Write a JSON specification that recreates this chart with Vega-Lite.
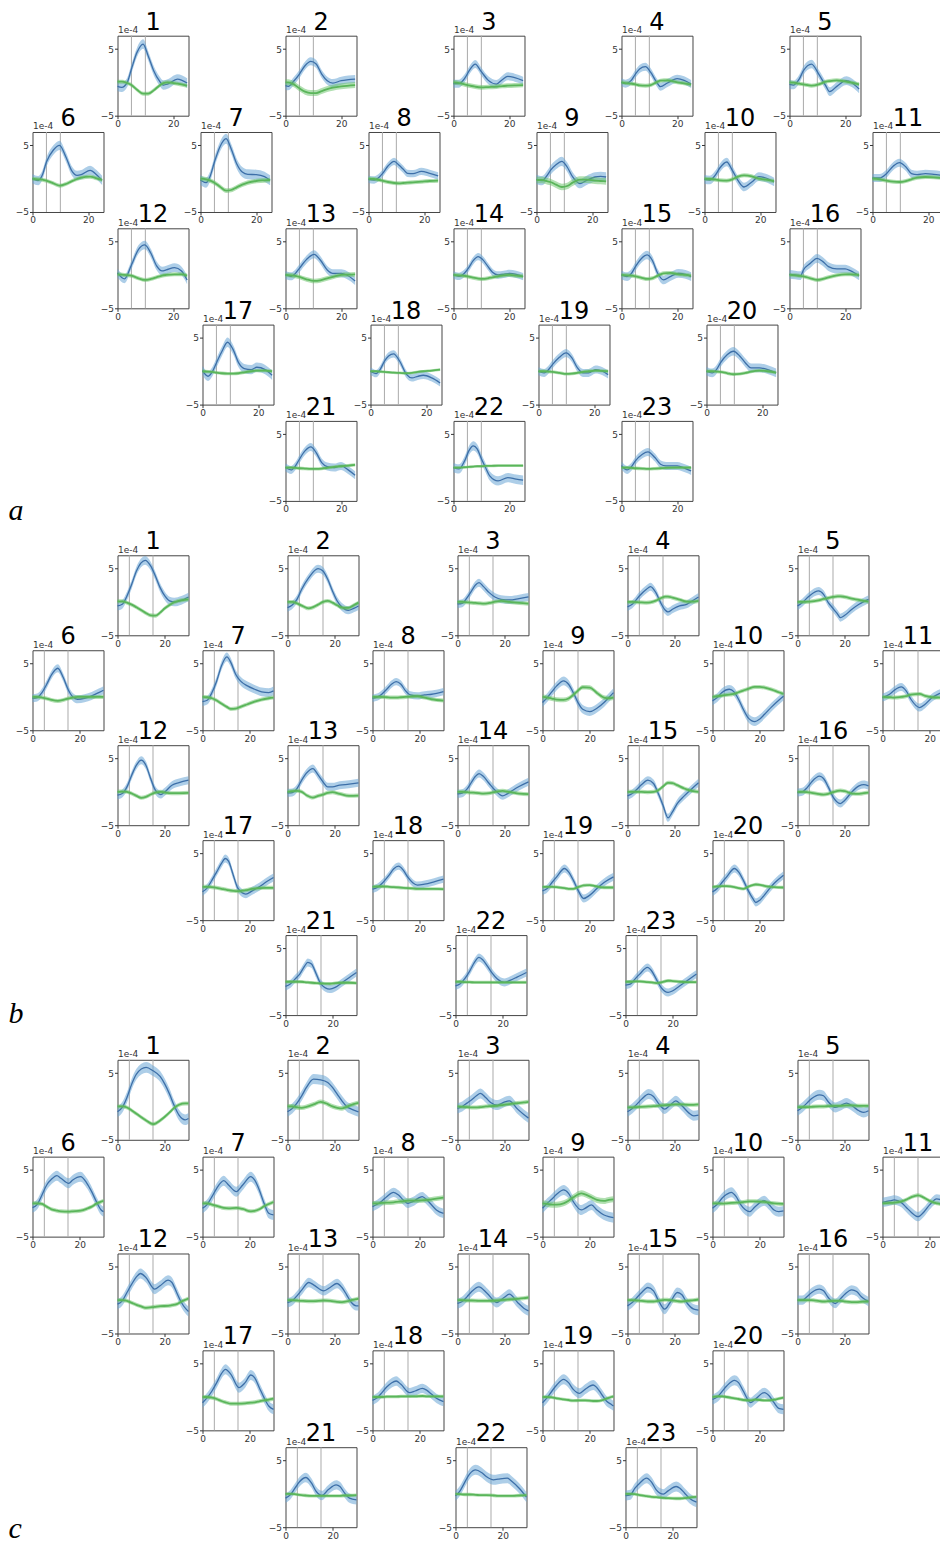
{"$schema":"https://vega.github.io/schema/vega-lite/v6.json","padding":{"left":8.5,"top":10.7,"right":-12,"bottom":0},"background":"white",
"config":{"view":{"stroke":"#444","strokeWidth":1},"axis":{"domain":false,"grid":false,"labelFlush":false,"labelOverlap":false,"labelFont":"DejaVu Sans","labelFontSize":9,"labelColor":"#333","tickColor":"#333","tickSize":3,"labelPadding":1,"titleFont":"DejaVu Sans","titleFontSize":9,"titleFontWeight":"normal","titleColor":"#333"},"axisY":{"titleAngle":0,"titleAlign":"left","titleBaseline":"bottom","titleX":0,"titleY":-1},"header":{"labelFontSize":24,"labelFont":"DejaVu Sans","labelColor":"#000","labelPadding":-10},"rule":{"color":"#aaa","strokeWidth":1}},
"datasets":{
"w":[{"p":"a01","be":0.7,"ge":0.3},{"p":"a02","be":0.6,"ge":0.45},{"p":"a03","be":0.6,"ge":0.35},{"p":"a04","be":0.6,"ge":0.3},{"p":"a05","be":0.65,"ge":0.3},{"p":"a06","be":0.7,"ge":0.3},{"p":"a07","be":0.75,"ge":0.35},{"p":"a08","be":0.55,"ge":0.3},{"p":"a09","be":0.7,"ge":0.5},{"p":"a10","be":0.65,"ge":0.3},{"p":"a11","be":0.6,"ge":0.3},{"p":"a12","be":0.65,"ge":0.3},{"p":"a13","be":0.6,"ge":0.35},{"p":"a14","be":0.55,"ge":0.3},{"p":"a15","be":0.65,"ge":0.3},{"p":"a16","be":0.65,"ge":0.3},{"p":"a17","be":0.7,"ge":0.25},{"p":"a18","be":0.55,"ge":0.2},{"p":"a19","be":0.6,"ge":0.25},{"p":"a20","be":0.65,"ge":0.25},{"p":"a21","be":0.6,"ge":0.25},{"p":"a22","be":0.7,"ge":0.2},{"p":"a23","be":0.6,"ge":0.25},
{"p":"b01","be":0.65,"ge":0.3},{"p":"b02","be":0.6,"ge":0.3},{"p":"b03","be":0.6,"ge":0.3},{"p":"b04","be":0.6,"ge":0.3},{"p":"b05","be":0.6,"ge":0.3},{"p":"b06","be":0.6,"ge":0.3},{"p":"b07","be":0.65,"ge":0.3},{"p":"b08","be":0.55,"ge":0.3},{"p":"b09","be":0.65,"ge":0.35},{"p":"b10","be":0.65,"ge":0.3},{"p":"b11","be":0.6,"ge":0.3},{"p":"b12","be":0.6,"ge":0.3},{"p":"b13","be":0.6,"ge":0.3},{"p":"b14","be":0.6,"ge":0.3},{"p":"b15","be":0.6,"ge":0.3},{"p":"b16","be":0.6,"ge":0.3},{"p":"b17","be":0.6,"ge":0.3},{"p":"b18","be":0.55,"ge":0.25},{"p":"b19","be":0.6,"ge":0.25},{"p":"b20","be":0.6,"ge":0.25},{"p":"b21","be":0.6,"ge":0.25},{"p":"b22","be":0.6,"ge":0.25},{"p":"b23","be":0.6,"ge":0.25},
{"p":"c01","be":0.8,"ge":0.3},{"p":"c02","be":0.75,"ge":0.35},{"p":"c03","be":0.75,"ge":0.3},{"p":"c04","be":0.75,"ge":0.3},{"p":"c05","be":0.75,"ge":0.3},{"p":"c06","be":0.75,"ge":0.3},{"p":"c07","be":0.75,"ge":0.3},{"p":"c08","be":0.7,"ge":0.35},{"p":"c09","be":0.75,"ge":0.45},{"p":"c10","be":0.75,"ge":0.3},{"p":"c11","be":0.7,"ge":0.3},{"p":"c12","be":0.75,"ge":0.3},{"p":"c13","be":0.7,"ge":0.3},{"p":"c14","be":0.75,"ge":0.3},{"p":"c15","be":0.75,"ge":0.3},{"p":"c16","be":0.7,"ge":0.3},{"p":"c17","be":0.75,"ge":0.3},{"p":"c18","be":0.7,"ge":0.25},{"p":"c19","be":0.75,"ge":0.25},{"p":"c20","be":0.75,"ge":0.25},{"p":"c21","be":0.7,"ge":0.25},{"p":"c22","be":0.75,"ge":0.25},{"p":"c23","be":0.75,"ge":0.25}],
"d":[
{"p":"a01","x":0,"b":-0.6,"g":0.1},{"p":"a01","x":1.5,"b":-0.75,"g":0.1},{"p":"a01","x":3.5,"b":0,"g":-0.1},{"p":"a01","x":5,"b":2,"g":-0.4},{"p":"a01","x":7,"b":4.5,"g":-1.1},{"p":"a01","x":9.2,"b":5.75,"g":-1.7},{"p":"a01","x":11,"b":4,"g":-1.7},{"p":"a01","x":13,"b":1.75,"g":-1.2},{"p":"a01","x":15,"b":0.25,"g":-0.5},{"p":"a01","x":16.5,"b":-0.4,"g":-0.1},{"p":"a01","x":18,"b":-0.25,"g":0},{"p":"a01","x":21.5,"b":0.5,"g":-0.2},{"p":"a01","x":25,"b":-0.1,"g":-0.5},
{"p":"a02","x":0,"b":-0.5,"g":0},{"p":"a02","x":1,"b":-0.6,"g":0},{"p":"a02","x":3,"b":0.2,"g":-0.3},{"p":"a02","x":5,"b":1.25,"g":-0.9},{"p":"a02","x":7,"b":2.5,"g":-1.4},{"p":"a02","x":9.1,"b":3.15,"g":-1.6},{"p":"a02","x":11,"b":2.75,"g":-1.6},{"p":"a02","x":13,"b":1.25,"g":-1.3},{"p":"a02","x":15,"b":0.25,"g":-1},{"p":"a02","x":17,"b":-0.1,"g":-0.8},{"p":"a02","x":20,"b":0.25,"g":-0.6},{"p":"a02","x":25,"b":0.5,"g":-0.4},
{"p":"a03","x":0,"b":-0.2,"g":0},{"p":"a03","x":2,"b":-0.2,"g":-0.1},{"p":"a03","x":4,"b":0.6,"g":-0.3},{"p":"a03","x":6,"b":2,"g":-0.5},{"p":"a03","x":7.8,"b":2.75,"g":-0.65},{"p":"a03","x":10,"b":1.6,"g":-0.75},{"p":"a03","x":12.5,"b":0.3,"g":-0.7},{"p":"a03","x":15.4,"b":-0.25,"g":-0.65},{"p":"a03","x":17.5,"b":0.4,"g":-0.55},{"p":"a03","x":19.5,"b":0.9,"g":-0.5},{"p":"a03","x":22,"b":0.7,"g":-0.45},{"p":"a03","x":25,"b":0.25,"g":-0.4},
{"p":"a04","x":0,"b":0,"g":0},{"p":"a04","x":1.5,"b":-0.2,"g":-0.1},{"p":"a04","x":3.5,"b":0.3,"g":-0.2},{"p":"a04","x":5,"b":1.25,"g":-0.3},{"p":"a04","x":6.5,"b":2,"g":-0.45},{"p":"a04","x":8.6,"b":2.35,"g":-0.5},{"p":"a04","x":10.5,"b":1.5,"g":-0.4},{"p":"a04","x":12.5,"b":0.1,"g":0},{"p":"a04","x":14,"b":-0.65,"g":0.25},{"p":"a04","x":16.5,"b":-0.1,"g":0.3},{"p":"a04","x":20,"b":0.55,"g":0},{"p":"a04","x":22.5,"b":0.3,"g":-0.15},{"p":"a04","x":25,"b":-0.25,"g":-0.35},
{"p":"a05","x":0,"b":-0.3,"g":0},{"p":"a05","x":1.5,"b":-0.4,"g":-0.05},{"p":"a05","x":3.5,"b":0.5,"g":-0.2},{"p":"a05","x":5,"b":1.75,"g":-0.3},{"p":"a05","x":7.9,"b":2.75,"g":-0.5},{"p":"a05","x":10.5,"b":1.25,"g":-0.3},{"p":"a05","x":13,"b":-0.5,"g":0.1},{"p":"a05","x":14.4,"b":-1.4,"g":0.2},{"p":"a05","x":17,"b":-0.6,"g":0.3},{"p":"a05","x":20.4,"b":0.25,"g":0.1},{"p":"a05","x":22.5,"b":-0.1,"g":-0.05},{"p":"a05","x":25,"b":-1,"g":-0.3},
{"p":"a06","x":0,"b":0,"g":0},{"p":"a06","x":2,"b":-0.3,"g":-0.1},{"p":"a06","x":3.5,"b":0.5,"g":-0.15},{"p":"a06","x":5,"b":2.5,"g":-0.3},{"p":"a06","x":7.5,"b":4.3,"g":-0.7},{"p":"a06","x":9.7,"b":5,"g":-1.05},{"p":"a06","x":12,"b":3.25,"g":-0.8},{"p":"a06","x":14,"b":1.25,"g":-0.4},{"p":"a06","x":16,"b":0.5,"g":-0.05},{"p":"a06","x":17.5,"b":0.6,"g":0.15},{"p":"a06","x":20.7,"b":1.25,"g":0.3},{"p":"a06","x":23,"b":0.6,"g":0.05},{"p":"a06","x":25,"b":-0.25,"g":-0.2},
{"p":"a07","x":0,"b":-0.2,"g":0},{"p":"a07","x":2,"b":-0.6,"g":-0.1},{"p":"a07","x":3.5,"b":0.4,"g":-0.3},{"p":"a07","x":5,"b":2.5,"g":-0.6},{"p":"a07","x":7,"b":4.8,"g":-1.2},{"p":"a07","x":9.2,"b":6,"g":-1.8},{"p":"a07","x":11,"b":4.5,"g":-1.7},{"p":"a07","x":13,"b":2.25,"g":-1.3},{"p":"a07","x":15,"b":1,"g":-0.9},{"p":"a07","x":17,"b":0.65,"g":-0.6},{"p":"a07","x":20,"b":0.6,"g":-0.35},{"p":"a07","x":23,"b":0.3,"g":-0.25},{"p":"a07","x":25,"b":-0.25,"g":-0.2},
{"p":"a08","x":0,"b":-0.1,"g":0},{"p":"a08","x":2,"b":-0.2,"g":-0.05},{"p":"a08","x":4,"b":0.3,"g":-0.2},{"p":"a08","x":5,"b":0.75,"g":-0.3},{"p":"a08","x":7,"b":1.9,"g":-0.5},{"p":"a08","x":9.2,"b":2.6,"g":-0.65},{"p":"a08","x":11,"b":2,"g":-0.7},{"p":"a08","x":12.5,"b":1.4,"g":-0.65},{"p":"a08","x":14,"b":0.8,"g":-0.6},{"p":"a08","x":16,"b":0.75,"g":-0.55},{"p":"a08","x":19,"b":1.1,"g":-0.45},{"p":"a08","x":22,"b":0.8,"g":-0.35},{"p":"a08","x":25,"b":0.4,"g":-0.3},
{"p":"a09","x":0,"b":-0.1,"g":-0.2},{"p":"a09","x":2,"b":-0.3,"g":-0.2},{"p":"a09","x":4,"b":0.6,"g":-0.4},{"p":"a09","x":5,"b":1.25,"g":-0.5},{"p":"a09","x":7,"b":2.1,"g":-0.9},{"p":"a09","x":9.1,"b":2.6,"g":-1.25},{"p":"a09","x":11,"b":1.75,"g":-1.1},{"p":"a09","x":13,"b":0.25,"g":-0.6},{"p":"a09","x":15.6,"b":-0.75,"g":-0.15},{"p":"a09","x":18,"b":-0.25,"g":-0.15},{"p":"a09","x":21,"b":0.25,"g":-0.3},{"p":"a09","x":23,"b":0.35,"g":-0.35},{"p":"a09","x":25,"b":0.25,"g":-0.4},
{"p":"a10","x":0,"b":-0.1,"g":0},{"p":"a10","x":2,"b":-0.2,"g":-0.05},{"p":"a10","x":4,"b":0.6,"g":-0.15},{"p":"a10","x":5.5,"b":1.6,"g":-0.25},{"p":"a10","x":8,"b":2.5,"g":-0.3},{"p":"a10","x":10,"b":1.25,"g":-0.1},{"p":"a10","x":12,"b":-0.25,"g":0.3},{"p":"a10","x":14.2,"b":-1.25,"g":0.5},{"p":"a10","x":17,"b":-0.5,"g":0.35},{"p":"a10","x":19.5,"b":0.3,"g":0},{"p":"a10","x":22,"b":0.1,"g":-0.15},{"p":"a10","x":25,"b":-0.5,"g":-0.35},
{"p":"a11","x":0,"b":0.1,"g":0},{"p":"a11","x":2.5,"b":0.1,"g":-0.1},{"p":"a11","x":5,"b":0.75,"g":-0.3},{"p":"a11","x":7.5,"b":1.9,"g":-0.45},{"p":"a11","x":9.7,"b":2.4,"g":-0.5},{"p":"a11","x":12,"b":1.75,"g":-0.35},{"p":"a11","x":14,"b":0.75,"g":-0.1},{"p":"a11","x":16,"b":0.6,"g":0.15},{"p":"a11","x":19,"b":0.75,"g":0.25},{"p":"a11","x":22,"b":0.65,"g":0.2},{"p":"a11","x":25,"b":0.5,"g":0.1},
{"p":"a12","x":0,"b":0.3,"g":0.1},{"p":"a12","x":2.5,"b":-0.6,"g":0},{"p":"a12","x":5,"b":1.5,"g":-0.1},{"p":"a12","x":7.5,"b":3.8,"g":-0.5},{"p":"a12","x":9.8,"b":4.5,"g":-0.75},{"p":"a12","x":12,"b":3.25,"g":-0.6},{"p":"a12","x":14,"b":1.4,"g":-0.35},{"p":"a12","x":16,"b":0.6,"g":-0.1},{"p":"a12","x":17.5,"b":0.75,"g":0},{"p":"a12","x":20.5,"b":1.1,"g":0.1},{"p":"a12","x":23,"b":0.6,"g":0.1},{"p":"a12","x":25,"b":-0.75,"g":-0.1},
{"p":"a13","x":0,"b":0,"g":0},{"p":"a13","x":2,"b":-0.2,"g":-0.05},{"p":"a13","x":3.5,"b":0.2,"g":-0.15},{"p":"a13","x":5,"b":1,"g":-0.3},{"p":"a13","x":7.5,"b":2.3,"g":-0.65},{"p":"a13","x":10.3,"b":3.1,"g":-0.9},{"p":"a13","x":12.5,"b":2.25,"g":-0.8},{"p":"a13","x":15,"b":0.75,"g":-0.5},{"p":"a13","x":17,"b":0.25,"g":-0.3},{"p":"a13","x":20,"b":0.25,"g":0},{"p":"a13","x":22,"b":0,"g":0.05},{"p":"a13","x":25,"b":-0.9,"g":0.1},
{"p":"a14","x":0,"b":0,"g":0},{"p":"a14","x":2,"b":-0.2,"g":-0.05},{"p":"a14","x":4,"b":0.3,"g":-0.15},{"p":"a14","x":5.5,"b":1.1,"g":-0.25},{"p":"a14","x":7,"b":2.1,"g":-0.4},{"p":"a14","x":8.9,"b":2.75,"g":-0.55},{"p":"a14","x":10.5,"b":2.3,"g":-0.6},{"p":"a14","x":12.4,"b":1.25,"g":-0.5},{"p":"a14","x":14,"b":0.4,"g":-0.35},{"p":"a14","x":16,"b":0,"g":-0.2},{"p":"a14","x":18,"b":0.1,"g":-0.05},{"p":"a14","x":20.1,"b":0.25,"g":0},{"p":"a14","x":22.5,"b":0.1,"g":-0.1},{"p":"a14","x":25,"b":-0.25,"g":-0.2},
{"p":"a15","x":0,"b":0,"g":0},{"p":"a15","x":2,"b":-0.25,"g":-0.05},{"p":"a15","x":3.5,"b":0.2,"g":-0.1},{"p":"a15","x":5,"b":1.25,"g":-0.2},{"p":"a15","x":7,"b":2.4,"g":-0.4},{"p":"a15","x":9.2,"b":3,"g":-0.6},{"p":"a15","x":11,"b":2.25,"g":-0.5},{"p":"a15","x":13,"b":0.25,"g":-0.1},{"p":"a15","x":15.1,"b":-0.75,"g":0.25},{"p":"a15","x":17.5,"b":-0.25,"g":0.3},{"p":"a15","x":20.5,"b":0.25,"g":0.1},{"p":"a15","x":23,"b":0.1,"g":0},{"p":"a15","x":25,"b":-0.25,"g":-0.1},
{"p":"a16","x":0,"b":0.1,"g":0},{"p":"a16","x":2,"b":0,"g":-0.05},{"p":"a16","x":4,"b":-0.1,"g":-0.15},{"p":"a16","x":5,"b":0.75,"g":-0.2},{"p":"a16","x":7.5,"b":1.75,"g":-0.5},{"p":"a16","x":9.9,"b":2.5,"g":-0.75},{"p":"a16","x":12,"b":2,"g":-0.6},{"p":"a16","x":14,"b":1.25,"g":-0.35},{"p":"a16","x":17,"b":0.9,"g":-0.05},{"p":"a16","x":20,"b":0.9,"g":0.1},{"p":"a16","x":22,"b":0.6,"g":0.1},{"p":"a16","x":25,"b":-0.15,"g":0},
{"p":"a17","x":0,"b":0.1,"g":0},{"p":"a17","x":2,"b":-0.75,"g":-0.05},{"p":"a17","x":3.5,"b":-0.1,"g":-0.1},{"p":"a17","x":5,"b":1.25,"g":-0.2},{"p":"a17","x":7,"b":3,"g":-0.3},{"p":"a17","x":9,"b":4.35,"g":-0.35},{"p":"a17","x":11,"b":3.25,"g":-0.35},{"p":"a17","x":13,"b":1.25,"g":-0.3},{"p":"a17","x":15,"b":0.4,"g":-0.15},{"p":"a17","x":17.5,"b":0.25,"g":0},{"p":"a17","x":19.5,"b":0.6,"g":0.1},{"p":"a17","x":22.5,"b":0.25,"g":0.1},{"p":"a17","x":25,"b":-0.6,"g":0},
{"p":"a18","x":0,"b":0,"g":0},{"p":"a18","x":2,"b":-0.35,"g":0},{"p":"a18","x":3.5,"b":0.3,"g":-0.05},{"p":"a18","x":5,"b":1.5,"g":-0.1},{"p":"a18","x":6.5,"b":2.3,"g":-0.15},{"p":"a18","x":8.3,"b":2.6,"g":-0.2},{"p":"a18","x":10.5,"b":1.5,"g":-0.25},{"p":"a18","x":13,"b":-0.5,"g":-0.3},{"p":"a18","x":14.9,"b":-1,"g":-0.25},{"p":"a18","x":17,"b":-0.75,"g":-0.1},{"p":"a18","x":19,"b":-0.6,"g":0},{"p":"a18","x":22,"b":-1,"g":0.1},{"p":"a18","x":25,"b":-1.75,"g":0.25},
{"p":"a19","x":0,"b":0,"g":0},{"p":"a19","x":2,"b":-0.25,"g":0},{"p":"a19","x":3.5,"b":0.2,"g":-0.05},{"p":"a19","x":5,"b":1,"g":-0.1},{"p":"a19","x":7.5,"b":2.1,"g":-0.25},{"p":"a19","x":9.9,"b":2.75,"g":-0.4},{"p":"a19","x":12,"b":2,"g":-0.35},{"p":"a19","x":14,"b":0.5,"g":-0.25},{"p":"a19","x":16,"b":-0.25,"g":-0.1},{"p":"a19","x":18,"b":-0.25,"g":0},{"p":"a19","x":20.5,"b":0.25,"g":0.1},{"p":"a19","x":23,"b":0,"g":0.05},{"p":"a19","x":25,"b":-0.5,"g":0},
{"p":"a20","x":0,"b":0,"g":0},{"p":"a20","x":2,"b":-0.25,"g":0},{"p":"a20","x":3.5,"b":0.2,"g":-0.05},{"p":"a20","x":5,"b":1.25,"g":-0.1},{"p":"a20","x":7.5,"b":2.5,"g":-0.3},{"p":"a20","x":9.7,"b":3,"g":-0.45},{"p":"a20","x":12,"b":2.25,"g":-0.4},{"p":"a20","x":14,"b":1.25,"g":-0.25},{"p":"a20","x":16,"b":0.5,"g":-0.05},{"p":"a20","x":19,"b":0.5,"g":0.1},{"p":"a20","x":22,"b":0.25,"g":0},{"p":"a20","x":25,"b":-0.25,"g":-0.2},
{"p":"a21","x":0,"b":0,"g":0},{"p":"a21","x":2,"b":-0.35,"g":0},{"p":"a21","x":3.5,"b":0.2,"g":-0.05},{"p":"a21","x":5,"b":1.25,"g":-0.1},{"p":"a21","x":7,"b":2.5,"g":-0.15},{"p":"a21","x":9.1,"b":3.1,"g":-0.2},{"p":"a21","x":11,"b":2.25,"g":-0.2},{"p":"a21","x":13,"b":0.75,"g":-0.15},{"p":"a21","x":15,"b":0.15,"g":-0.05},{"p":"a21","x":17.5,"b":0,"g":0.1},{"p":"a21","x":20,"b":0.25,"g":0.2},{"p":"a21","x":22.5,"b":-0.35,"g":0.3},{"p":"a21","x":25,"b":-1.15,"g":0.4},
{"p":"a22","x":0,"b":0,"g":0},{"p":"a22","x":2,"b":-0.2,"g":0},{"p":"a22","x":4,"b":1,"g":0.05},{"p":"a22","x":5.5,"b":2.5,"g":0.1},{"p":"a22","x":7.1,"b":3.25,"g":0.15},{"p":"a22","x":8.5,"b":2.8,"g":0.2},{"p":"a22","x":10.1,"b":1.25,"g":0.2},{"p":"a22","x":11.5,"b":0,"g":0.25},{"p":"a22","x":13,"b":-1.25,"g":0.25},{"p":"a22","x":16,"b":-2,"g":0.3},{"p":"a22","x":19.5,"b":-1.5,"g":0.3},{"p":"a22","x":22.5,"b":-1.75,"g":0.3},{"p":"a22","x":25,"b":-1.9,"g":0.3},
{"p":"a23","x":0,"b":0.3,"g":0},{"p":"a23","x":2,"b":-0.35,"g":0},{"p":"a23","x":3.5,"b":0.1,"g":-0.05},{"p":"a23","x":5,"b":1,"g":-0.1},{"p":"a23","x":7.5,"b":2,"g":-0.15},{"p":"a23","x":9.5,"b":2.35,"g":-0.2},{"p":"a23","x":12,"b":1.5,"g":-0.15},{"p":"a23","x":14,"b":0.5,"g":-0.1},{"p":"a23","x":16,"b":0.25,"g":-0.05},{"p":"a23","x":20,"b":0.25,"g":0},{"p":"a23","x":23,"b":-0.15,"g":0},{"p":"a23","x":25,"b":-0.5,"g":0},
{"p":"b01","x":0,"b":-0.6,"g":0.1},{"p":"b01","x":2,"b":-0.35,"g":0.1},{"p":"b01","x":4,"b":0.9,"g":-0.1},{"p":"b01","x":6,"b":2.65,"g":-0.4},{"p":"b01","x":8,"b":4.65,"g":-0.8},{"p":"b01","x":11.7,"b":6.25,"g":-1.6},{"p":"b01","x":14,"b":5.4,"g":-2},{"p":"b01","x":16,"b":3.9,"g":-2.05},{"p":"b01","x":18,"b":2.15,"g":-1.6},{"p":"b01","x":20,"b":0.9,"g":-0.95},{"p":"b01","x":22,"b":0.15,"g":-0.45},{"p":"b01","x":24,"b":0,"g":-0.05},{"p":"b01","x":27,"b":0.25,"g":0.25},{"p":"b01","x":30,"b":0.75,"g":0.4},
{"p":"b02","x":0,"b":-0.85,"g":0},{"p":"b02","x":2,"b":-0.45,"g":0},{"p":"b02","x":4,"b":0.4,"g":-0.2},{"p":"b02","x":6,"b":1.9,"g":-0.55},{"p":"b02","x":9,"b":3.65,"g":-0.95},{"p":"b02","x":12.9,"b":5,"g":-0.4},{"p":"b02","x":15,"b":4.65,"g":0},{"p":"b02","x":17,"b":3.4,"g":0.15},{"p":"b02","x":19,"b":1.65,"g":-0.1},{"p":"b02","x":21,"b":0.15,"g":-0.5},{"p":"b02","x":23,"b":-0.75,"g":-0.85},{"p":"b02","x":25.7,"b":-1.25,"g":-0.9},{"p":"b02","x":28,"b":-0.95,"g":-0.5},{"p":"b02","x":30,"b":-0.6,"g":-0.1},
{"p":"b03","x":0,"b":-0.3,"g":0},{"p":"b03","x":2,"b":-0.2,"g":0},{"p":"b03","x":4,"b":0.6,"g":-0.05},{"p":"b03","x":6,"b":1.7,"g":-0.1},{"p":"b03","x":7.5,"b":2.5,"g":-0.15},{"p":"b03","x":9.1,"b":2.9,"g":-0.2},{"p":"b03","x":11,"b":2.3,"g":-0.25},{"p":"b03","x":13.4,"b":1.4,"g":-0.15},{"p":"b03","x":16,"b":0.7,"g":0.05},{"p":"b03","x":18.4,"b":0.4,"g":0.15},{"p":"b03","x":22,"b":0.3,"g":0},{"p":"b03","x":26,"b":0.5,"g":-0.15},{"p":"b03","x":30,"b":0.75,"g":-0.25},
{"p":"b04","x":0,"b":-0.75,"g":0},{"p":"b04","x":2,"b":-0.35,"g":0},{"p":"b04","x":5,"b":0.9,"g":-0.05},{"p":"b04","x":8,"b":1.9,"g":-0.1},{"p":"b04","x":9.7,"b":2.3,"g":-0.05},{"p":"b04","x":12,"b":1.4,"g":0.2},{"p":"b04","x":14,"b":-0.1,"g":0.55},{"p":"b04","x":16,"b":-1.25,"g":0.8},{"p":"b04","x":17.1,"b":-1.5,"g":0.8},{"p":"b04","x":19,"b":-1.1,"g":0.65},{"p":"b04","x":22,"b":-0.6,"g":0.35},{"p":"b04","x":25,"b":-0.35,"g":0.05},{"p":"b04","x":28,"b":0.3,"g":0.05},{"p":"b04","x":30,"b":0.75,"g":0.15},
{"p":"b05","x":0,"b":-0.6,"g":0},{"p":"b05","x":2,"b":-0.1,"g":0},{"p":"b05","x":5,"b":0.9,"g":0.05},{"p":"b05","x":8.9,"b":1.65,"g":0.25},{"p":"b05","x":11,"b":1.15,"g":0.45},{"p":"b05","x":13,"b":-0.1,"g":0.6},{"p":"b05","x":15,"b":-0.95,"g":0.75},{"p":"b05","x":17,"b":-1.85,"g":0.85},{"p":"b05","x":18.1,"b":-2.35,"g":0.85},{"p":"b05","x":20,"b":-2,"g":0.75},{"p":"b05","x":23,"b":-1.1,"g":0.5},{"p":"b05","x":26,"b":-0.35,"g":0.3},{"p":"b05","x":28,"b":0.05,"g":0.15},{"p":"b05","x":30,"b":0.4,"g":0.05},
{"p":"b06","x":0,"b":-0.2,"g":0},{"p":"b06","x":2,"b":-0.1,"g":0},{"p":"b06","x":4,"b":0.65,"g":-0.1},{"p":"b06","x":6,"b":1.9,"g":-0.25},{"p":"b06","x":8,"b":3.3,"g":-0.45},{"p":"b06","x":10.7,"b":4.3,"g":-0.6},{"p":"b06","x":13,"b":2.9,"g":-0.45},{"p":"b06","x":15,"b":1.15,"g":-0.25},{"p":"b06","x":17,"b":0,"g":-0.1},{"p":"b06","x":19,"b":-0.35,"g":0},{"p":"b06","x":22,"b":-0.2,"g":0},{"p":"b06","x":25,"b":0.15,"g":0},{"p":"b06","x":28,"b":0.65,"g":0},{"p":"b06","x":30,"b":1,"g":0},
{"p":"b07","x":0,"b":-0.7,"g":0},{"p":"b07","x":2,"b":-0.5,"g":-0.05},{"p":"b07","x":4,"b":0.65,"g":-0.2},{"p":"b07","x":6,"b":2.4,"g":-0.55},{"p":"b07","x":8,"b":4.65,"g":-1},{"p":"b07","x":10.3,"b":6,"g":-1.5},{"p":"b07","x":12,"b":5.15,"g":-1.8},{"p":"b07","x":14,"b":3.4,"g":-1.75},{"p":"b07","x":16,"b":2.4,"g":-1.5},{"p":"b07","x":19,"b":1.65,"g":-1.1},{"p":"b07","x":22,"b":1.15,"g":-0.7},{"p":"b07","x":25,"b":0.75,"g":-0.4},{"p":"b07","x":28,"b":0.65,"g":-0.2},{"p":"b07","x":30,"b":0.9,"g":-0.1},
{"p":"b08","x":0,"b":-0.2,"g":0},{"p":"b08","x":3,"b":0.15,"g":0},{"p":"b08","x":6,"b":1.15,"g":-0.05},{"p":"b08","x":8,"b":1.9,"g":-0.1},{"p":"b08","x":10,"b":2.3,"g":-0.1},{"p":"b08","x":12,"b":1.9,"g":-0.05},{"p":"b08","x":14,"b":0.9,"g":0},{"p":"b08","x":16,"b":0.3,"g":0.05},{"p":"b08","x":19,"b":0.15,"g":0.1},{"p":"b08","x":22,"b":0.3,"g":-0.1},{"p":"b08","x":25,"b":0.4,"g":-0.35},{"p":"b08","x":30,"b":0.8,"g":-0.55},
{"p":"b09","x":0,"b":-0.85,"g":0},{"p":"b09","x":2,"b":-0.1,"g":-0.1},{"p":"b09","x":4,"b":0.8,"g":-0.25},{"p":"b09","x":6,"b":1.65,"g":-0.4},{"p":"b09","x":8.9,"b":2.4,"g":-0.45},{"p":"b09","x":11,"b":1.9,"g":-0.25},{"p":"b09","x":13,"b":0.65,"g":0.3},{"p":"b09","x":15,"b":-0.85,"g":0.95},{"p":"b09","x":17,"b":-1.85,"g":1.45},{"p":"b09","x":20,"b":-2.2,"g":1.4},{"p":"b09","x":23,"b":-1.7,"g":0.6},{"p":"b09","x":26,"b":-0.85,"g":-0.1},{"p":"b09","x":28,"b":-0.1,"g":-0.2},{"p":"b09","x":30,"b":0.65,"g":-0.1},
{"p":"b10","x":0,"b":-0.6,"g":0},{"p":"b10","x":2,"b":-0.1,"g":0.1},{"p":"b10","x":4,"b":0.65,"g":0.2},{"p":"b10","x":7.1,"b":1.15,"g":0.35},{"p":"b10","x":9,"b":0.8,"g":0.45},{"p":"b10","x":11,"b":-0.35,"g":0.7},{"p":"b10","x":13,"b":-1.85,"g":0.95},{"p":"b10","x":15,"b":-3.1,"g":1.2},{"p":"b10","x":17.9,"b":-3.7,"g":1.5},{"p":"b10","x":20,"b":-3.3,"g":1.5},{"p":"b10","x":22,"b":-2.6,"g":1.4},{"p":"b10","x":25,"b":-1.5,"g":1.1},{"p":"b10","x":28,"b":-0.5,"g":0.7},{"p":"b10","x":30,"b":0.1,"g":0.45},
{"p":"b11","x":0,"b":-0.1,"g":0},{"p":"b11","x":3,"b":0.4,"g":-0.05},{"p":"b11","x":5,"b":1,"g":-0.1},{"p":"b11","x":7.9,"b":1.5,"g":0},{"p":"b11","x":10,"b":0.9,"g":0.1},{"p":"b11","x":12,"b":-0.35,"g":0.35},{"p":"b11","x":15.7,"b":-1.6,"g":0.45},{"p":"b11","x":18,"b":-1.1,"g":0.15},{"p":"b11","x":21,"b":-0.1,"g":-0.05},{"p":"b11","x":24,"b":0.5,"g":-0.1},{"p":"b11","x":27,"b":0.9,"g":-0.15},{"p":"b11","x":30,"b":1,"g":-0.15},
{"p":"b12","x":0,"b":-0.5,"g":0},{"p":"b12","x":2,"b":-0.25,"g":0.05},{"p":"b12","x":4,"b":0.75,"g":0},{"p":"b12","x":6,"b":2.5,"g":-0.25},{"p":"b12","x":8,"b":4,"g":-0.6},{"p":"b12","x":10,"b":4.75,"g":-0.9},{"p":"b12","x":12,"b":4,"g":-0.75},{"p":"b12","x":14,"b":2,"g":-0.4},{"p":"b12","x":16,"b":0.25,"g":-0.1},{"p":"b12","x":18.3,"b":-0.4,"g":0},{"p":"b12","x":20,"b":0,"g":-0.1},{"p":"b12","x":23,"b":1,"g":-0.2},{"p":"b12","x":26,"b":1.4,"g":-0.2},{"p":"b12","x":30,"b":1.75,"g":-0.15},
{"p":"b13","x":0,"b":-0.15,"g":0},{"p":"b13","x":2,"b":-0.1,"g":0.1},{"p":"b13","x":4,"b":0.5,"g":0.15},{"p":"b13","x":6,"b":1.75,"g":0},{"p":"b13","x":8,"b":2.8,"g":-0.5},{"p":"b13","x":10.7,"b":3.5,"g":-0.85},{"p":"b13","x":13,"b":2.5,"g":-0.6},{"p":"b13","x":15,"b":1.5,"g":-0.4},{"p":"b13","x":17,"b":0.75,"g":-0.15},{"p":"b13","x":19,"b":0.75,"g":-0.05},{"p":"b13","x":22,"b":1,"g":-0.3},{"p":"b13","x":26,"b":1.15,"g":-0.6},{"p":"b13","x":30,"b":1.35,"g":-0.55},
{"p":"b14","x":0,"b":-0.3,"g":0},{"p":"b14","x":2,"b":-0.2,"g":0},{"p":"b14","x":4,"b":0.4,"g":-0.05},{"p":"b14","x":6,"b":1.5,"g":-0.1},{"p":"b14","x":7.5,"b":2.3,"g":-0.15},{"p":"b14","x":9.1,"b":2.75,"g":-0.2},{"p":"b14","x":11,"b":2.3,"g":-0.25},{"p":"b14","x":13.4,"b":1.25,"g":-0.2},{"p":"b14","x":16,"b":0.2,"g":0},{"p":"b14","x":19.1,"b":-0.6,"g":0.15},{"p":"b14","x":21,"b":-0.3,"g":0.05},{"p":"b14","x":23.4,"b":0.25,"g":-0.1},{"p":"b14","x":26,"b":0.8,"g":-0.25},{"p":"b14","x":30,"b":1.5,"g":-0.35},
{"p":"b15","x":0,"b":-0.6,"g":0},{"p":"b15","x":2,"b":-0.25,"g":0},{"p":"b15","x":4,"b":0.4,"g":0},{"p":"b15","x":6,"b":1.1,"g":0},{"p":"b15","x":8.6,"b":1.75,"g":-0.05},{"p":"b15","x":11,"b":1.25,"g":0},{"p":"b15","x":13,"b":-0.25,"g":0.25},{"p":"b15","x":15,"b":-2,"g":0.8},{"p":"b15","x":17.1,"b":-3.9,"g":1.35},{"p":"b15","x":19,"b":-3,"g":1.3},{"p":"b15","x":21,"b":-1.75,"g":1},{"p":"b15","x":24,"b":-0.6,"g":0.5},{"p":"b15","x":27,"b":0.4,"g":0.15},{"p":"b15","x":30,"b":1.35,"g":0},
{"p":"b16","x":0,"b":-0.1,"g":0},{"p":"b16","x":2,"b":0,"g":0},{"p":"b16","x":4,"b":0.6,"g":-0.05},{"p":"b16","x":6,"b":1.5,"g":-0.15},{"p":"b16","x":9.3,"b":2.35,"g":-0.35},{"p":"b16","x":11,"b":2,"g":-0.4},{"p":"b16","x":13,"b":0.75,"g":-0.3},{"p":"b16","x":15,"b":-0.75,"g":-0.05},{"p":"b16","x":18.1,"b":-1.75,"g":0.2},{"p":"b16","x":20,"b":-1.25,"g":0.1},{"p":"b16","x":23,"b":0,"g":-0.25},{"p":"b16","x":26,"b":0.9,"g":-0.3},{"p":"b16","x":28,"b":1.1,"g":-0.2},{"p":"b16","x":30,"b":0.9,"g":-0.1},
{"p":"b17","x":0,"b":-0.75,"g":0},{"p":"b17","x":2,"b":-0.15,"g":0},{"p":"b17","x":4,"b":1,"g":-0.05},{"p":"b17","x":6,"b":2.25,"g":-0.15},{"p":"b17","x":8,"b":3.5,"g":-0.3},{"p":"b17","x":9.6,"b":4.25,"g":-0.4},{"p":"b17","x":11,"b":3.85,"g":-0.5},{"p":"b17","x":13,"b":1.75,"g":-0.6},{"p":"b17","x":15,"b":-0.25,"g":-0.65},{"p":"b17","x":18.3,"b":-1.1,"g":-0.5},{"p":"b17","x":21,"b":-0.6,"g":-0.3},{"p":"b17","x":24,"b":0,"g":-0.2},{"p":"b17","x":27,"b":0.75,"g":-0.15},{"p":"b17","x":30,"b":1.4,"g":-0.15},
{"p":"b18","x":0,"b":-0.35,"g":0},{"p":"b18","x":2,"b":-0.1,"g":0.05},{"p":"b18","x":4,"b":0.5,"g":0.05},{"p":"b18","x":7,"b":1.75,"g":0},{"p":"b18","x":9,"b":2.7,"g":-0.05},{"p":"b18","x":11,"b":3.1,"g":-0.1},{"p":"b18","x":13,"b":2.5,"g":-0.15},{"p":"b18","x":15,"b":1.4,"g":-0.2},{"p":"b18","x":17,"b":0.6,"g":-0.25},{"p":"b18","x":19,"b":0.25,"g":-0.3},{"p":"b18","x":22,"b":0.4,"g":-0.3},{"p":"b18","x":26,"b":0.75,"g":-0.3},{"p":"b18","x":30,"b":1.15,"g":-0.35},
{"p":"b19","x":0,"b":-0.6,"g":0},{"p":"b19","x":2,"b":-0.25,"g":0},{"p":"b19","x":4,"b":0.65,"g":0},{"p":"b19","x":6,"b":1.5,"g":-0.05},{"p":"b19","x":9.3,"b":2.75,"g":-0.2},{"p":"b19","x":11,"b":2.25,"g":-0.3},{"p":"b19","x":13,"b":1,"g":-0.3},{"p":"b19","x":15,"b":-0.5,"g":-0.05},{"p":"b19","x":17.4,"b":-1.75,"g":0.2},{"p":"b19","x":20,"b":-1.25,"g":0.25},{"p":"b19","x":23,"b":-0.25,"g":0.05},{"p":"b19","x":26,"b":0.65,"g":-0.1},{"p":"b19","x":30,"b":1.5,"g":-0.1},
{"p":"b20","x":0,"b":-0.75,"g":0},{"p":"b20","x":2,"b":-0.25,"g":0.05},{"p":"b20","x":4,"b":0.65,"g":0.1},{"p":"b20","x":6,"b":1.5,"g":0.1},{"p":"b20","x":9.3,"b":2.75,"g":-0.05},{"p":"b20","x":11,"b":2.25,"g":-0.2},{"p":"b20","x":13,"b":1,"g":-0.3},{"p":"b20","x":15,"b":-0.5,"g":0},{"p":"b20","x":17,"b":-1.75,"g":0.25},{"p":"b20","x":18.3,"b":-2.35,"g":0.35},{"p":"b20","x":20,"b":-2,"g":0.3},{"p":"b20","x":23,"b":-0.75,"g":0.05},{"p":"b20","x":26,"b":0.5,"g":-0.05},{"p":"b20","x":30,"b":1.75,"g":-0.1},
{"p":"b21","x":0,"b":-0.7,"g":0},{"p":"b21","x":2,"b":-0.35,"g":0},{"p":"b21","x":4,"b":0.4,"g":0},{"p":"b21","x":6,"b":1.15,"g":0},{"p":"b21","x":8,"b":2.3,"g":-0.05},{"p":"b21","x":9.4,"b":2.9,"g":-0.1},{"p":"b21","x":11,"b":2.65,"g":-0.15},{"p":"b21","x":13,"b":1.15,"g":-0.2},{"p":"b21","x":15,"b":-0.35,"g":-0.25},{"p":"b21","x":18.7,"b":-1.1,"g":-0.3},{"p":"b21","x":21,"b":-0.85,"g":-0.2},{"p":"b21","x":24,"b":-0.1,"g":-0.15},{"p":"b21","x":27,"b":0.65,"g":-0.15},{"p":"b21","x":30,"b":1.4,"g":-0.2},
{"p":"b22","x":0,"b":-0.6,"g":0},{"p":"b22","x":2,"b":-0.3,"g":0},{"p":"b22","x":4,"b":0.5,"g":-0.05},{"p":"b22","x":6,"b":1.6,"g":-0.05},{"p":"b22","x":8,"b":2.9,"g":-0.1},{"p":"b22","x":9.9,"b":3.65,"g":-0.1},{"p":"b22","x":11.5,"b":3.3,"g":-0.1},{"p":"b22","x":13.4,"b":2.4,"g":-0.1},{"p":"b22","x":15.5,"b":1.3,"g":-0.1},{"p":"b22","x":17.7,"b":0.4,"g":-0.1},{"p":"b22","x":20.6,"b":-0.1,"g":-0.1},{"p":"b22","x":23,"b":0.2,"g":-0.1},{"p":"b22","x":26,"b":0.7,"g":-0.1},{"p":"b22","x":30,"b":1.4,"g":-0.1},
{"p":"b23","x":0,"b":-0.5,"g":0},{"p":"b23","x":2,"b":-0.35,"g":0},{"p":"b23","x":4,"b":0.4,"g":0.05},{"p":"b23","x":6,"b":1.15,"g":0.05},{"p":"b23","x":9.3,"b":2.15,"g":-0.05},{"p":"b23","x":11,"b":1.65,"g":-0.1},{"p":"b23","x":13,"b":0.4,"g":-0.2},{"p":"b23","x":15,"b":-0.85,"g":-0.1},{"p":"b23","x":18,"b":-1.6,"g":0.15},{"p":"b23","x":20,"b":-1.35,"g":0.1},{"p":"b23","x":23,"b":-0.6,"g":0},{"p":"b23","x":26,"b":0.15,"g":-0.05},{"p":"b23","x":30,"b":1.15,"g":-0.05},
{"p":"c01","x":0,"b":-0.8,"g":0},{"p":"c01","x":2,"b":-0.15,"g":0},{"p":"c01","x":4,"b":1.35,"g":-0.15},{"p":"c01","x":6,"b":3.35,"g":-0.6},{"p":"c01","x":8,"b":4.85,"g":-1.1},{"p":"c01","x":12.1,"b":5.85,"g":-2.1},{"p":"c01","x":15,"b":5.35,"g":-2.65},{"p":"c01","x":18,"b":4.5,"g":-2.1},{"p":"c01","x":20,"b":3.35,"g":-1.55},{"p":"c01","x":22,"b":1.85,"g":-0.9},{"p":"c01","x":24,"b":0.1,"g":-0.2},{"p":"c01","x":26,"b":-1.3,"g":0.25},{"p":"c01","x":28.6,"b":-2,"g":0.45},{"p":"c01","x":30,"b":-1.8,"g":0.45},
{"p":"c02","x":0,"b":-0.8,"g":0},{"p":"c02","x":2,"b":-0.3,"g":0},{"p":"c02","x":4,"b":0.5,"g":-0.15},{"p":"c02","x":6,"b":1.6,"g":-0.2},{"p":"c02","x":8,"b":2.85,"g":-0.05},{"p":"c02","x":11,"b":4.1,"g":0.3},{"p":"c02","x":14,"b":4,"g":0.7},{"p":"c02","x":17,"b":3.6,"g":0.35},{"p":"c02","x":19,"b":2.85,"g":0},{"p":"c02","x":21,"b":1.85,"g":-0.2},{"p":"c02","x":23,"b":0.85,"g":-0.3},{"p":"c02","x":25,"b":0,"g":-0.05},{"p":"c02","x":27,"b":-0.4,"g":0.25},{"p":"c02","x":30,"b":-0.8,"g":0.55},
{"p":"c03","x":0,"b":-0.3,"g":0},{"p":"c03","x":2,"b":0,"g":-0.05},{"p":"c03","x":4,"b":0.5,"g":-0.1},{"p":"c03","x":6,"b":1,"g":-0.15},{"p":"c03","x":8,"b":1.6,"g":-0.15},{"p":"c03","x":9.7,"b":1.95,"g":-0.1},{"p":"c03","x":12,"b":1.3,"g":0},{"p":"c03","x":14,"b":0.6,"g":0.05},{"p":"c03","x":16.9,"b":0.2,"g":0.1},{"p":"c03","x":19.5,"b":0.6,"g":0.25},{"p":"c03","x":21.9,"b":0.85,"g":0.35},{"p":"c03","x":25.4,"b":-0.4,"g":0.5},{"p":"c03","x":28,"b":-1.2,"g":0.6},{"p":"c03","x":30,"b":-1.75,"g":0.7},
{"p":"c04","x":0,"b":-0.8,"g":-0.15},{"p":"c04","x":2,"b":-0.3,"g":-0.15},{"p":"c04","x":4,"b":0.35,"g":-0.1},{"p":"c04","x":6,"b":1.1,"g":-0.05},{"p":"c04","x":8.9,"b":1.85,"g":0},{"p":"c04","x":11,"b":1.5,"g":0.05},{"p":"c04","x":13,"b":0.5,"g":0.1},{"p":"c04","x":15.7,"b":-0.4,"g":0.2},{"p":"c04","x":18,"b":0.2,"g":0.25},{"p":"c04","x":20.4,"b":0.85,"g":0.3},{"p":"c04","x":23,"b":0.1,"g":0.3},{"p":"c04","x":26,"b":-1,"g":0.25},{"p":"c04","x":28,"b":-1.4,"g":0.25},{"p":"c04","x":30,"b":-1.3,"g":0.3},
{"p":"c05","x":0,"b":-0.65,"g":-0.1},{"p":"c05","x":2,"b":-0.15,"g":-0.1},{"p":"c05","x":4,"b":0.5,"g":-0.1},{"p":"c05","x":6,"b":1.2,"g":-0.05},{"p":"c05","x":9.3,"b":1.75,"g":0},{"p":"c05","x":11,"b":1.6,"g":0},{"p":"c05","x":13,"b":0.7,"g":0.05},{"p":"c05","x":16,"b":-0.15,"g":0.1},{"p":"c05","x":18,"b":0.1,"g":0.1},{"p":"c05","x":20.7,"b":0.5,"g":0.15},{"p":"c05","x":23,"b":0.1,"g":0.15},{"p":"c05","x":26,"b":-0.65,"g":0.1},{"p":"c05","x":28,"b":-0.9,"g":0.1},{"p":"c05","x":30,"b":-0.65,"g":0.1},
{"p":"c06","x":0,"b":-0.65,"g":0},{"p":"c06","x":2,"b":-0.15,"g":0},{"p":"c06","x":4,"b":1.25,"g":-0.1},{"p":"c06","x":6,"b":2.75,"g":-0.5},{"p":"c06","x":8,"b":3.6,"g":-0.9},{"p":"c06","x":10.3,"b":4.15,"g":-1.1},{"p":"c06","x":12,"b":3.75,"g":-1.2},{"p":"c06","x":15.3,"b":3,"g":-1.25},{"p":"c06","x":17,"b":3.5,"g":-1.2},{"p":"c06","x":20.3,"b":4,"g":-1.1},{"p":"c06","x":23,"b":3,"g":-0.8},{"p":"c06","x":25,"b":1.75,"g":-0.5},{"p":"c06","x":27,"b":0.25,"g":-0.05},{"p":"c06","x":29,"b":-1,"g":0.25},{"p":"c06","x":30,"b":-1.25,"g":0.35},
{"p":"c07","x":0,"b":-0.75,"g":0},{"p":"c07","x":2,"b":-0.15,"g":0},{"p":"c07","x":4,"b":1,"g":-0.2},{"p":"c07","x":6,"b":2.25,"g":-0.4},{"p":"c07","x":9,"b":3.4,"g":-0.7},{"p":"c07","x":11,"b":2.75,"g":-0.75},{"p":"c07","x":14.3,"b":1.75,"g":-0.7},{"p":"c07","x":17,"b":2.75,"g":-0.85},{"p":"c07","x":20.4,"b":4,"g":-1.2},{"p":"c07","x":22,"b":3.5,"g":-1.15},{"p":"c07","x":24,"b":2,"g":-0.9},{"p":"c07","x":26,"b":0,"g":-0.45},{"p":"c07","x":28,"b":-1.5,"g":-0.1},{"p":"c07","x":30,"b":-1.75,"g":0.2},
{"p":"c08","x":0,"b":-0.5,"g":0},{"p":"c08","x":2,"b":-0.15,"g":0},{"p":"c08","x":4,"b":0.35,"g":0.05},{"p":"c08","x":6,"b":1,"g":0.1},{"p":"c08","x":8.9,"b":1.65,"g":0.15},{"p":"c08","x":11,"b":1.25,"g":0.25},{"p":"c08","x":13,"b":0.5,"g":0.3},{"p":"c08","x":15,"b":0,"g":0.4},{"p":"c08","x":17,"b":0.25,"g":0.4},{"p":"c08","x":21,"b":1,"g":0.45},{"p":"c08","x":23,"b":0.5,"g":0.5},{"p":"c08","x":25,"b":-0.25,"g":0.6},{"p":"c08","x":27,"b":-1,"g":0.7},{"p":"c08","x":30,"b":-1.5,"g":0.85},
{"p":"c09","x":0,"b":-0.75,"g":0},{"p":"c09","x":2,"b":0,"g":-0.1},{"p":"c09","x":4,"b":0.65,"g":-0.2},{"p":"c09","x":6,"b":1.35,"g":-0.2},{"p":"c09","x":8.9,"b":2,"g":0},{"p":"c09","x":11,"b":1.5,"g":0.4},{"p":"c09","x":13,"b":0.25,"g":0.9},{"p":"c09","x":16.4,"b":-1,"g":1.5},{"p":"c09","x":18,"b":-0.75,"g":1.35},{"p":"c09","x":20.7,"b":-0.25,"g":0.9},{"p":"c09","x":23,"b":-1,"g":0.5},{"p":"c09","x":26,"b":-1.75,"g":0.35},{"p":"c09","x":28,"b":-2,"g":0.5},{"p":"c09","x":30,"b":-2.15,"g":0.6},
{"p":"c10","x":0,"b":-0.75,"g":0},{"p":"c10","x":2,"b":-0.15,"g":0},{"p":"c10","x":4,"b":0.75,"g":-0.05},{"p":"c10","x":6,"b":1.35,"g":0},{"p":"c10","x":7.9,"b":1.65,"g":0.05},{"p":"c10","x":10,"b":1,"g":0.1},{"p":"c10","x":12,"b":-0.25,"g":0.15},{"p":"c10","x":15.7,"b":-1.25,"g":0.3},{"p":"c10","x":18,"b":-0.5,"g":0.3},{"p":"c10","x":21.9,"b":0.4,"g":0.2},{"p":"c10","x":24,"b":-0.25,"g":0.1},{"p":"c10","x":26,"b":-1,"g":0},{"p":"c10","x":28,"b":-1.25,"g":-0.05},{"p":"c10","x":30,"b":-1.15,"g":-0.1},
{"p":"c11","x":0,"b":0.15,"g":0},{"p":"c11","x":3,"b":0.35,"g":0.05},{"p":"c11","x":5,"b":0.5,"g":0.1},{"p":"c11","x":8,"b":0.1,"g":0.3},{"p":"c11","x":10,"b":-0.6,"g":0.55},{"p":"c11","x":12,"b":-1.3,"g":0.9},{"p":"c11","x":15,"b":-2,"g":1.2},{"p":"c11","x":17.5,"b":-1.3,"g":0.85},{"p":"c11","x":20,"b":-0.2,"g":0.35},{"p":"c11","x":22.9,"b":0.65,"g":0},{"p":"c11","x":25,"b":0.5,"g":-0.1},{"p":"c11","x":28,"b":0.2,"g":-0.1},{"p":"c11","x":30,"b":0,"g":-0.1},
{"p":"c12","x":0,"b":-0.6,"g":0},{"p":"c12","x":2,"b":-0.1,"g":0},{"p":"c12","x":4,"b":1.15,"g":-0.1},{"p":"c12","x":6,"b":2.4,"g":-0.4},{"p":"c12","x":8,"b":3.5,"g":-0.7},{"p":"c12","x":9.7,"b":4,"g":-0.9},{"p":"c12","x":12,"b":3.4,"g":-1.15},{"p":"c12","x":15.7,"b":1.65,"g":-1},{"p":"c12","x":18,"b":2.15,"g":-0.9},{"p":"c12","x":21.4,"b":3,"g":-0.85},{"p":"c12","x":23,"b":2.65,"g":-0.75},{"p":"c12","x":25,"b":1.15,"g":-0.6},{"p":"c12","x":27,"b":-0.35,"g":-0.2},{"p":"c12","x":29,"b":-1.35,"g":0.1},{"p":"c12","x":30,"b":-1.7,"g":0.25},
{"p":"c13","x":0,"b":-0.35,"g":0},{"p":"c13","x":2,"b":-0.1,"g":0},{"p":"c13","x":4,"b":0.65,"g":-0.05},{"p":"c13","x":6,"b":1.5,"g":-0.1},{"p":"c13","x":9,"b":2.65,"g":-0.15},{"p":"c13","x":11,"b":2.3,"g":-0.15},{"p":"c13","x":15.4,"b":1.4,"g":-0.05},{"p":"c13","x":18,"b":1.9,"g":-0.1},{"p":"c13","x":20.9,"b":2.5,"g":-0.25},{"p":"c13","x":23,"b":1.9,"g":-0.3},{"p":"c13","x":25,"b":0.8,"g":-0.2},{"p":"c13","x":27,"b":-0.35,"g":0},{"p":"c13","x":29,"b":-0.85,"g":0.15},{"p":"c13","x":30,"b":-0.85,"g":0.25},
{"p":"c14","x":0,"b":-0.5,"g":0},{"p":"c14","x":2,"b":-0.2,"g":0},{"p":"c14","x":4,"b":0.5,"g":-0.05},{"p":"c14","x":6,"b":1.3,"g":-0.05},{"p":"c14","x":9,"b":2,"g":-0.1},{"p":"c14","x":12.6,"b":1,"g":-0.1},{"p":"c14","x":16.6,"b":-0.35,"g":-0.05},{"p":"c14","x":19.7,"b":0.4,"g":0.05},{"p":"c14","x":21.9,"b":0.9,"g":0.1},{"p":"c14","x":25.4,"b":-0.35,"g":0.2},{"p":"c14","x":28,"b":-1.2,"g":0.3},{"p":"c14","x":30,"b":-1.6,"g":0.4},
{"p":"c15","x":0,"b":-0.85,"g":0},{"p":"c15","x":2,"b":-0.35,"g":0},{"p":"c15","x":4,"b":0.4,"g":-0.05},{"p":"c15","x":6,"b":1.15,"g":-0.1},{"p":"c15","x":8.6,"b":1.9,"g":-0.2},{"p":"c15","x":11,"b":1.4,"g":-0.2},{"p":"c15","x":13,"b":0,"g":-0.1},{"p":"c15","x":15.7,"b":-1.35,"g":0.05},{"p":"c15","x":18,"b":-0.35,"g":0},{"p":"c15","x":21.1,"b":1.15,"g":-0.15},{"p":"c15","x":23,"b":0.8,"g":-0.2},{"p":"c15","x":25,"b":-0.35,"g":-0.1},{"p":"c15","x":28,"b":-1.35,"g":0},{"p":"c15","x":30,"b":-1.5,"g":0.1},
{"p":"c16","x":0,"b":0,"g":0},{"p":"c16","x":2,"b":0,"g":0},{"p":"c16","x":4,"b":0.5,"g":0},{"p":"c16","x":6,"b":1.15,"g":0},{"p":"c16","x":9.3,"b":1.65,"g":-0.15},{"p":"c16","x":11,"b":1.4,"g":-0.2},{"p":"c16","x":13,"b":0.4,"g":-0.15},{"p":"c16","x":16,"b":-0.5,"g":-0.1},{"p":"c16","x":18,"b":0.15,"g":-0.1},{"p":"c16","x":20,"b":0.9,"g":-0.2},{"p":"c16","x":22.9,"b":1.55,"g":-0.3},{"p":"c16","x":25,"b":1.3,"g":-0.3},{"p":"c16","x":27,"b":0.5,"g":-0.25},{"p":"c16","x":29,"b":0,"g":-0.2},{"p":"c16","x":30,"b":-0.2,"g":-0.2},
{"p":"c17","x":0,"b":-0.85,"g":0},{"p":"c17","x":2,"b":-0.1,"g":0},{"p":"c17","x":4,"b":0.9,"g":-0.1},{"p":"c17","x":6,"b":2.15,"g":-0.3},{"p":"c17","x":8,"b":3.5,"g":-0.6},{"p":"c17","x":9.7,"b":4.15,"g":-0.8},{"p":"c17","x":12,"b":3.4,"g":-1},{"p":"c17","x":15.4,"b":1.4,"g":-1},{"p":"c17","x":18,"b":2.15,"g":-0.95},{"p":"c17","x":20.4,"b":3.3,"g":-0.85},{"p":"c17","x":22,"b":2.9,"g":-0.8},{"p":"c17","x":24,"b":1.4,"g":-0.65},{"p":"c17","x":26,"b":-0.1,"g":-0.5},{"p":"c17","x":28,"b":-1.35,"g":-0.4},{"p":"c17","x":30,"b":-1.85,"g":-0.25},
{"p":"c18","x":0,"b":-0.5,"g":0},{"p":"c18","x":2,"b":-0.1,"g":0},{"p":"c18","x":4,"b":0.65,"g":0},{"p":"c18","x":6,"b":1.5,"g":0.05},{"p":"c18","x":8,"b":2.1,"g":0.05},{"p":"c18","x":10,"b":2.4,"g":0.05},{"p":"c18","x":12,"b":1.9,"g":0.1},{"p":"c18","x":15.7,"b":0.65,"g":0.1},{"p":"c18","x":18,"b":0.9,"g":0.1},{"p":"c18","x":21.1,"b":1.3,"g":0.15},{"p":"c18","x":23,"b":1,"g":0.1},{"p":"c18","x":25,"b":0.4,"g":0.1},{"p":"c18","x":27,"b":-0.2,"g":0.1},{"p":"c18","x":30,"b":-0.7,"g":0.1},
{"p":"c19","x":0,"b":-0.85,"g":0},{"p":"c19","x":2,"b":-0.1,"g":0},{"p":"c19","x":4,"b":0.9,"g":-0.05},{"p":"c19","x":6,"b":1.8,"g":-0.2},{"p":"c19","x":8.9,"b":2.65,"g":-0.35},{"p":"c19","x":11,"b":2.15,"g":-0.45},{"p":"c19","x":13,"b":1.15,"g":-0.55},{"p":"c19","x":15.7,"b":0.55,"g":-0.5},{"p":"c19","x":18,"b":1.15,"g":-0.5},{"p":"c19","x":21.4,"b":1.8,"g":-0.6},{"p":"c19","x":23,"b":1.4,"g":-0.6},{"p":"c19","x":25,"b":0.4,"g":-0.5},{"p":"c19","x":27,"b":-0.6,"g":-0.25},{"p":"c19","x":29,"b":-1.1,"g":0},{"p":"c19","x":30,"b":-1.35,"g":0.1},
{"p":"c20","x":0,"b":-0.35,"g":0},{"p":"c20","x":2,"b":0,"g":0.1},{"p":"c20","x":4,"b":0.8,"g":0.1},{"p":"c20","x":6,"b":1.65,"g":0},{"p":"c20","x":9.3,"b":2.5,"g":-0.2},{"p":"c20","x":11,"b":2.15,"g":-0.3},{"p":"c20","x":13,"b":0.9,"g":-0.45},{"p":"c20","x":16.1,"b":-0.85,"g":-0.5},{"p":"c20","x":18,"b":-0.35,"g":-0.4},{"p":"c20","x":21.9,"b":0.65,"g":-0.5},{"p":"c20","x":24,"b":0.15,"g":-0.5},{"p":"c20","x":26,"b":-0.85,"g":-0.4},{"p":"c20","x":28,"b":-1.7,"g":-0.25},{"p":"c20","x":30,"b":-1.85,"g":-0.1},
{"p":"c21","x":0,"b":-0.65,"g":0},{"p":"c21","x":2,"b":-0.15,"g":0},{"p":"c21","x":4,"b":0.85,"g":-0.05},{"p":"c21","x":6,"b":1.85,"g":-0.15},{"p":"c21","x":8.6,"b":2.45,"g":-0.25},{"p":"c21","x":11,"b":1.6,"g":-0.3},{"p":"c21","x":13,"b":0.35,"g":-0.3},{"p":"c21","x":15.4,"b":-0.25,"g":-0.3},{"p":"c21","x":18,"b":0.6,"g":-0.3},{"p":"c21","x":21.4,"b":1.35,"g":-0.3},{"p":"c21","x":23,"b":1.1,"g":-0.3},{"p":"c21","x":25,"b":0.1,"g":-0.25},{"p":"c21","x":27,"b":-0.65,"g":-0.25},{"p":"c21","x":30,"b":-0.9,"g":-0.2},
{"p":"c22","x":0,"b":-0.3,"g":0},{"p":"c22","x":2,"b":0.5,"g":-0.05},{"p":"c22","x":4,"b":1.8,"g":-0.1},{"p":"c22","x":6,"b":3,"g":-0.1},{"p":"c22","x":8.5,"b":3.6,"g":-0.15},{"p":"c22","x":11,"b":3.2,"g":-0.2},{"p":"c22","x":13,"b":2.6,"g":-0.2},{"p":"c22","x":16.1,"b":2.1,"g":-0.25},{"p":"c22","x":18,"b":2.2,"g":-0.3},{"p":"c22","x":21.9,"b":2.35,"g":-0.3},{"p":"c22","x":24,"b":1.8,"g":-0.3},{"p":"c22","x":26.9,"b":0.85,"g":-0.25},{"p":"c22","x":30,"b":-0.5,"g":-0.2},
{"p":"c23","x":0,"b":-0.25,"g":0},{"p":"c23","x":2,"b":-0.15,"g":0},{"p":"c23","x":4,"b":0.85,"g":-0.05},{"p":"c23","x":6,"b":1.6,"g":-0.2},{"p":"c23","x":8.9,"b":2.35,"g":-0.35},{"p":"c23","x":11,"b":1.75,"g":-0.45},{"p":"c23","x":13,"b":0.6,"g":-0.5},{"p":"c23","x":16,"b":-0.05,"g":-0.6},{"p":"c23","x":18,"b":0.45,"g":-0.65},{"p":"c23","x":21.4,"b":1.1,"g":-0.7},{"p":"c23","x":23,"b":0.85,"g":-0.7},{"p":"c23","x":25,"b":0.1,"g":-0.65},{"p":"c23","x":27,"b":-0.65,"g":-0.55},{"p":"c23","x":30,"b":-1.25,"g":-0.45}
]},
"spacing":3.6,
"vconcat":[
{"spacing":-22.7,"vconcat":[
{"spacing":0,"hconcat":[{"data":{"values":[]},"mark":"point","width":66.2,"height":80,"view":{"stroke":null}},
{"data":{"name":"d"},"transform":[{"filter":{"field":"p","oneOf":["a01","a02","a03","a04","a05"]}},{"lookup":"p","from":{"data":{"name":"w"},"key":"p","fields":["be","ge"]}}],"facet":{"column":{"field":"p","type":"nominal","title":null,"header":{"labelExpr":"toNumber(slice(datum.value,1))"}}},"spacing":{"column":76},"resolve":{"axis":{"x":"independent","y":"independent"}},
"spec":{"width":71,"height":80,"encoding":{"x":{"field":"x","type":"quantitative","scale":{"domain":[0,25.5],"nice":false,"zero":false},"axis":{"values":[0,20],"title":null}}},"layer":[{"transform":[{"filter":"datum.x==0"}],"mark":"rule","encoding":{"x":{"datum":5}}},{"transform":[{"filter":"datum.x==0"}],"mark":"rule","encoding":{"x":{"datum":10}}},{"mark":{"type":"errorband","color":"#6aa6d6","opacity":0.55,"interpolate":"monotone"},"encoding":{"y":{"field":"b","type":"quantitative","title":"1e-4","scale":{"domain":[-5,7],"nice":false},"axis":{"values":[-5,0,5]}},"yError":{"field":"be"}}},{"mark":{"type":"line","color":"#3d6fa8","strokeWidth":1.3,"interpolate":"monotone"},"encoding":{"y":{"field":"b","type":"quantitative","title":"1e-4"}}},{"mark":{"type":"errorband","color":"#66c266","opacity":0.5,"interpolate":"monotone"},"encoding":{"y":{"field":"g","type":"quantitative","title":"1e-4"},"yError":{"field":"ge"}}},{"mark":{"type":"line","color":"#5ab55a","strokeWidth":1.8,"interpolate":"monotone"},"encoding":{"y":{"field":"g","type":"quantitative","title":"1e-4"}}}]}}]},
{"data":{"name":"d"},"transform":[{"filter":{"field":"p","oneOf":["a06","a07","a08","a09","a10","a11"]}},{"lookup":"p","from":{"data":{"name":"w"},"key":"p","fields":["be","ge"]}}],"facet":{"column":{"field":"p","type":"nominal","title":null,"header":{"labelExpr":"toNumber(slice(datum.value,1))"}}},"spacing":{"column":76},"resolve":{"axis":{"x":"independent","y":"independent"}},
"spec":{"width":71,"height":80,"encoding":{"x":{"field":"x","type":"quantitative","scale":{"domain":[0,25.5],"nice":false,"zero":false},"axis":{"values":[0,20],"title":null}}},"layer":[{"transform":[{"filter":"datum.x==0"}],"mark":"rule","encoding":{"x":{"datum":5}}},{"transform":[{"filter":"datum.x==0"}],"mark":"rule","encoding":{"x":{"datum":10}}},{"mark":{"type":"errorband","color":"#6aa6d6","opacity":0.55,"interpolate":"monotone"},"encoding":{"y":{"field":"b","type":"quantitative","title":"1e-4","scale":{"domain":[-5,7],"nice":false},"axis":{"values":[-5,0,5]}},"yError":{"field":"be"}}},{"mark":{"type":"line","color":"#3d6fa8","strokeWidth":1.3,"interpolate":"monotone"},"encoding":{"y":{"field":"b","type":"quantitative","title":"1e-4"}}},{"mark":{"type":"errorband","color":"#66c266","opacity":0.5,"interpolate":"monotone"},"encoding":{"y":{"field":"g","type":"quantitative","title":"1e-4"},"yError":{"field":"ge"}}},{"mark":{"type":"line","color":"#5ab55a","strokeWidth":1.8,"interpolate":"monotone"},"encoding":{"y":{"field":"g","type":"quantitative","title":"1e-4"}}}]}},
{"spacing":0,"hconcat":[{"data":{"values":[]},"mark":"point","width":66.2,"height":80,"view":{"stroke":null}},
{"data":{"name":"d"},"transform":[{"filter":{"field":"p","oneOf":["a12","a13","a14","a15","a16"]}},{"lookup":"p","from":{"data":{"name":"w"},"key":"p","fields":["be","ge"]}}],"facet":{"column":{"field":"p","type":"nominal","title":null,"header":{"labelExpr":"toNumber(slice(datum.value,1))"}}},"spacing":{"column":76},"resolve":{"axis":{"x":"independent","y":"independent"}},
"spec":{"width":71,"height":80,"encoding":{"x":{"field":"x","type":"quantitative","scale":{"domain":[0,25.5],"nice":false,"zero":false},"axis":{"values":[0,20],"title":null}}},"layer":[{"transform":[{"filter":"datum.x==0"}],"mark":"rule","encoding":{"x":{"datum":5}}},{"transform":[{"filter":"datum.x==0"}],"mark":"rule","encoding":{"x":{"datum":10}}},{"mark":{"type":"errorband","color":"#6aa6d6","opacity":0.55,"interpolate":"monotone"},"encoding":{"y":{"field":"b","type":"quantitative","title":"1e-4","scale":{"domain":[-5,7],"nice":false},"axis":{"values":[-5,0,5]}},"yError":{"field":"be"}}},{"mark":{"type":"line","color":"#3d6fa8","strokeWidth":1.3,"interpolate":"monotone"},"encoding":{"y":{"field":"b","type":"quantitative","title":"1e-4"}}},{"mark":{"type":"errorband","color":"#66c266","opacity":0.5,"interpolate":"monotone"},"encoding":{"y":{"field":"g","type":"quantitative","title":"1e-4"},"yError":{"field":"ge"}}},{"mark":{"type":"line","color":"#5ab55a","strokeWidth":1.8,"interpolate":"monotone"},"encoding":{"y":{"field":"g","type":"quantitative","title":"1e-4"}}}]}}]},
{"spacing":0,"hconcat":[{"data":{"values":[]},"mark":"point","width":151.5,"height":80,"view":{"stroke":null}},
{"data":{"name":"d"},"transform":[{"filter":{"field":"p","oneOf":["a17","a18","a19","a20"]}},{"lookup":"p","from":{"data":{"name":"w"},"key":"p","fields":["be","ge"]}}],"facet":{"column":{"field":"p","type":"nominal","title":null,"header":{"labelExpr":"toNumber(slice(datum.value,1))"}}},"spacing":{"column":76},"resolve":{"axis":{"x":"independent","y":"independent"}},
"spec":{"width":71,"height":80,"encoding":{"x":{"field":"x","type":"quantitative","scale":{"domain":[0,25.5],"nice":false,"zero":false},"axis":{"values":[0,20],"title":null}}},"layer":[{"transform":[{"filter":"datum.x==0"}],"mark":"rule","encoding":{"x":{"datum":5}}},{"transform":[{"filter":"datum.x==0"}],"mark":"rule","encoding":{"x":{"datum":10}}},{"mark":{"type":"errorband","color":"#6aa6d6","opacity":0.55,"interpolate":"monotone"},"encoding":{"y":{"field":"b","type":"quantitative","title":"1e-4","scale":{"domain":[-5,7],"nice":false},"axis":{"values":[-5,0,5]}},"yError":{"field":"be"}}},{"mark":{"type":"line","color":"#3d6fa8","strokeWidth":1.3,"interpolate":"monotone"},"encoding":{"y":{"field":"b","type":"quantitative","title":"1e-4"}}},{"mark":{"type":"errorband","color":"#66c266","opacity":0.5,"interpolate":"monotone"},"encoding":{"y":{"field":"g","type":"quantitative","title":"1e-4"},"yError":{"field":"ge"}}},{"mark":{"type":"line","color":"#5ab55a","strokeWidth":1.8,"interpolate":"monotone"},"encoding":{"y":{"field":"g","type":"quantitative","title":"1e-4"}}}]}}]},
{"spacing":0,"hconcat":[{"data":{"values":[]},"mark":"point","width":234.2,"height":71.5,"view":{"stroke":null},"title":{"text":"a","orient":"bottom","anchor":"start","font":"Liberation Serif","fontStyle":"italic","fontWeight":"normal","fontSize":30,"color":"#000","dx":-24}},
{"data":{"name":"d"},"transform":[{"filter":{"field":"p","oneOf":["a21","a22","a23"]}},{"lookup":"p","from":{"data":{"name":"w"},"key":"p","fields":["be","ge"]}}],"facet":{"column":{"field":"p","type":"nominal","title":null,"header":{"labelExpr":"toNumber(slice(datum.value,1))"}}},"spacing":{"column":76},"resolve":{"axis":{"x":"independent","y":"independent"}},
"spec":{"width":71,"height":80,"encoding":{"x":{"field":"x","type":"quantitative","scale":{"domain":[0,25.5],"nice":false,"zero":false},"axis":{"values":[0,20],"title":null}}},"layer":[{"transform":[{"filter":"datum.x==0"}],"mark":"rule","encoding":{"x":{"datum":5}}},{"transform":[{"filter":"datum.x==0"}],"mark":"rule","encoding":{"x":{"datum":10}}},{"mark":{"type":"errorband","color":"#6aa6d6","opacity":0.55,"interpolate":"monotone"},"encoding":{"y":{"field":"b","type":"quantitative","title":"1e-4","scale":{"domain":[-5,7],"nice":false},"axis":{"values":[-5,0,5]}},"yError":{"field":"be"}}},{"mark":{"type":"line","color":"#3d6fa8","strokeWidth":1.3,"interpolate":"monotone"},"encoding":{"y":{"field":"b","type":"quantitative","title":"1e-4"}}},{"mark":{"type":"errorband","color":"#66c266","opacity":0.5,"interpolate":"monotone"},"encoding":{"y":{"field":"g","type":"quantitative","title":"1e-4"},"yError":{"field":"ge"}}},{"mark":{"type":"line","color":"#5ab55a","strokeWidth":1.8,"interpolate":"monotone"},"encoding":{"y":{"field":"g","type":"quantitative","title":"1e-4"}}}]}}]}
]},
{"spacing":5.5,"vconcat":[
{"spacing":-24.05,"vconcat":[
{"spacing":0,"hconcat":[{"data":{"values":[]},"mark":"point","width":66.2,"height":80,"view":{"stroke":null}},
{"data":{"name":"d"},"transform":[{"filter":{"field":"p","oneOf":["b01","b02","b03","b04","b05"]}},{"lookup":"p","from":{"data":{"name":"w"},"key":"p","fields":["be","ge"]}}],"facet":{"column":{"field":"p","type":"nominal","title":null,"header":{"labelExpr":"toNumber(slice(datum.value,1))"}}},"spacing":{"column":76},"resolve":{"axis":{"x":"independent","y":"independent"}},
"spec":{"width":71,"height":80,"encoding":{"x":{"field":"x","type":"quantitative","scale":{"domain":[0,30],"nice":false,"zero":false},"axis":{"values":[0,20],"title":null}}},"layer":[{"transform":[{"filter":"datum.x==0"}],"mark":"rule","encoding":{"x":{"datum":5}}},{"transform":[{"filter":"datum.x==0"}],"mark":"rule","encoding":{"x":{"datum":15}}},{"mark":{"type":"errorband","color":"#6aa6d6","opacity":0.55,"interpolate":"monotone"},"encoding":{"y":{"field":"b","type":"quantitative","title":"1e-4","scale":{"domain":[-5,7],"nice":false},"axis":{"values":[-5,0,5]}},"yError":{"field":"be"}}},{"mark":{"type":"line","color":"#3d6fa8","strokeWidth":1.3,"interpolate":"monotone"},"encoding":{"y":{"field":"b","type":"quantitative","title":"1e-4"}}},{"mark":{"type":"errorband","color":"#66c266","opacity":0.5,"interpolate":"monotone"},"encoding":{"y":{"field":"g","type":"quantitative","title":"1e-4"},"yError":{"field":"ge"}}},{"mark":{"type":"line","color":"#5ab55a","strokeWidth":1.8,"interpolate":"monotone"},"encoding":{"y":{"field":"g","type":"quantitative","title":"1e-4"}}}]}}]},
{"data":{"name":"d"},"transform":[{"filter":{"field":"p","oneOf":["b06","b07","b08","b09","b10","b11"]}},{"lookup":"p","from":{"data":{"name":"w"},"key":"p","fields":["be","ge"]}}],"facet":{"column":{"field":"p","type":"nominal","title":null,"header":{"labelExpr":"toNumber(slice(datum.value,1))"}}},"spacing":{"column":76},"resolve":{"axis":{"x":"independent","y":"independent"}},
"spec":{"width":71,"height":80,"encoding":{"x":{"field":"x","type":"quantitative","scale":{"domain":[0,30],"nice":false,"zero":false},"axis":{"values":[0,20],"title":null}}},"layer":[{"transform":[{"filter":"datum.x==0"}],"mark":"rule","encoding":{"x":{"datum":5}}},{"transform":[{"filter":"datum.x==0"}],"mark":"rule","encoding":{"x":{"datum":15}}},{"mark":{"type":"errorband","color":"#6aa6d6","opacity":0.55,"interpolate":"monotone"},"encoding":{"y":{"field":"b","type":"quantitative","title":"1e-4","scale":{"domain":[-5,7],"nice":false},"axis":{"values":[-5,0,5]}},"yError":{"field":"be"}}},{"mark":{"type":"line","color":"#3d6fa8","strokeWidth":1.3,"interpolate":"monotone"},"encoding":{"y":{"field":"b","type":"quantitative","title":"1e-4"}}},{"mark":{"type":"errorband","color":"#66c266","opacity":0.5,"interpolate":"monotone"},"encoding":{"y":{"field":"g","type":"quantitative","title":"1e-4"},"yError":{"field":"ge"}}},{"mark":{"type":"line","color":"#5ab55a","strokeWidth":1.8,"interpolate":"monotone"},"encoding":{"y":{"field":"g","type":"quantitative","title":"1e-4"}}}]}},
{"spacing":0,"hconcat":[{"data":{"values":[]},"mark":"point","width":66.2,"height":80,"view":{"stroke":null}},
{"data":{"name":"d"},"transform":[{"filter":{"field":"p","oneOf":["b12","b13","b14","b15","b16"]}},{"lookup":"p","from":{"data":{"name":"w"},"key":"p","fields":["be","ge"]}}],"facet":{"column":{"field":"p","type":"nominal","title":null,"header":{"labelExpr":"toNumber(slice(datum.value,1))"}}},"spacing":{"column":76},"resolve":{"axis":{"x":"independent","y":"independent"}},
"spec":{"width":71,"height":80,"encoding":{"x":{"field":"x","type":"quantitative","scale":{"domain":[0,30],"nice":false,"zero":false},"axis":{"values":[0,20],"title":null}}},"layer":[{"transform":[{"filter":"datum.x==0"}],"mark":"rule","encoding":{"x":{"datum":5}}},{"transform":[{"filter":"datum.x==0"}],"mark":"rule","encoding":{"x":{"datum":15}}},{"mark":{"type":"errorband","color":"#6aa6d6","opacity":0.55,"interpolate":"monotone"},"encoding":{"y":{"field":"b","type":"quantitative","title":"1e-4","scale":{"domain":[-5,7],"nice":false},"axis":{"values":[-5,0,5]}},"yError":{"field":"be"}}},{"mark":{"type":"line","color":"#3d6fa8","strokeWidth":1.3,"interpolate":"monotone"},"encoding":{"y":{"field":"b","type":"quantitative","title":"1e-4"}}},{"mark":{"type":"errorband","color":"#66c266","opacity":0.5,"interpolate":"monotone"},"encoding":{"y":{"field":"g","type":"quantitative","title":"1e-4"},"yError":{"field":"ge"}}},{"mark":{"type":"line","color":"#5ab55a","strokeWidth":1.8,"interpolate":"monotone"},"encoding":{"y":{"field":"g","type":"quantitative","title":"1e-4"}}}]}}]},
{"spacing":0,"hconcat":[{"data":{"values":[]},"mark":"point","width":151.5,"height":80,"view":{"stroke":null}},
{"data":{"name":"d"},"transform":[{"filter":{"field":"p","oneOf":["b17","b18","b19","b20"]}},{"lookup":"p","from":{"data":{"name":"w"},"key":"p","fields":["be","ge"]}}],"facet":{"column":{"field":"p","type":"nominal","title":null,"header":{"labelExpr":"toNumber(slice(datum.value,1))"}}},"spacing":{"column":76},"resolve":{"axis":{"x":"independent","y":"independent"}},
"spec":{"width":71,"height":80,"encoding":{"x":{"field":"x","type":"quantitative","scale":{"domain":[0,30],"nice":false,"zero":false},"axis":{"values":[0,20],"title":null}}},"layer":[{"transform":[{"filter":"datum.x==0"}],"mark":"rule","encoding":{"x":{"datum":5}}},{"transform":[{"filter":"datum.x==0"}],"mark":"rule","encoding":{"x":{"datum":15}}},{"mark":{"type":"errorband","color":"#6aa6d6","opacity":0.55,"interpolate":"monotone"},"encoding":{"y":{"field":"b","type":"quantitative","title":"1e-4","scale":{"domain":[-5,7],"nice":false},"axis":{"values":[-5,0,5]}},"yError":{"field":"be"}}},{"mark":{"type":"line","color":"#3d6fa8","strokeWidth":1.3,"interpolate":"monotone"},"encoding":{"y":{"field":"b","type":"quantitative","title":"1e-4"}}},{"mark":{"type":"errorband","color":"#66c266","opacity":0.5,"interpolate":"monotone"},"encoding":{"y":{"field":"g","type":"quantitative","title":"1e-4"},"yError":{"field":"ge"}}},{"mark":{"type":"line","color":"#5ab55a","strokeWidth":1.8,"interpolate":"monotone"},"encoding":{"y":{"field":"g","type":"quantitative","title":"1e-4"}}}]}}]},
{"spacing":0,"hconcat":[{"data":{"values":[]},"mark":"point","width":234.2,"height":59.5,"view":{"stroke":null},"title":{"text":"b","orient":"bottom","anchor":"start","font":"Liberation Serif","fontStyle":"italic","fontWeight":"normal","fontSize":30,"color":"#000","dx":-24}},
{"data":{"name":"d"},"transform":[{"filter":{"field":"p","oneOf":["b21","b22","b23"]}},{"lookup":"p","from":{"data":{"name":"w"},"key":"p","fields":["be","ge"]}}],"facet":{"column":{"field":"p","type":"nominal","title":null,"header":{"labelExpr":"toNumber(slice(datum.value,1))"}}},"spacing":{"column":76},"resolve":{"axis":{"x":"independent","y":"independent"}},
"spec":{"width":71,"height":80,"encoding":{"x":{"field":"x","type":"quantitative","scale":{"domain":[0,30],"nice":false,"zero":false},"axis":{"values":[0,20],"title":null}}},"layer":[{"transform":[{"filter":"datum.x==0"}],"mark":"rule","encoding":{"x":{"datum":5}}},{"transform":[{"filter":"datum.x==0"}],"mark":"rule","encoding":{"x":{"datum":15}}},{"mark":{"type":"errorband","color":"#6aa6d6","opacity":0.55,"interpolate":"monotone"},"encoding":{"y":{"field":"b","type":"quantitative","title":"1e-4","scale":{"domain":[-5,7],"nice":false},"axis":{"values":[-5,0,5]}},"yError":{"field":"be"}}},{"mark":{"type":"line","color":"#3d6fa8","strokeWidth":1.3,"interpolate":"monotone"},"encoding":{"y":{"field":"b","type":"quantitative","title":"1e-4"}}},{"mark":{"type":"errorband","color":"#66c266","opacity":0.5,"interpolate":"monotone"},"encoding":{"y":{"field":"g","type":"quantitative","title":"1e-4"},"yError":{"field":"ge"}}},{"mark":{"type":"line","color":"#5ab55a","strokeWidth":1.8,"interpolate":"monotone"},"encoding":{"y":{"field":"g","type":"quantitative","title":"1e-4"}}}]}}]}
]},
{"spacing":-22.15,"vconcat":[
{"spacing":0,"hconcat":[{"data":{"values":[]},"mark":"point","width":66.2,"height":80,"view":{"stroke":null}},
{"data":{"name":"d"},"transform":[{"filter":{"field":"p","oneOf":["c01","c02","c03","c04","c05"]}},{"lookup":"p","from":{"data":{"name":"w"},"key":"p","fields":["be","ge"]}}],"facet":{"column":{"field":"p","type":"nominal","title":null,"header":{"labelExpr":"toNumber(slice(datum.value,1))"}}},"spacing":{"column":76},"resolve":{"axis":{"x":"independent","y":"independent"}},
"spec":{"width":71,"height":80,"encoding":{"x":{"field":"x","type":"quantitative","scale":{"domain":[0,30],"nice":false,"zero":false},"axis":{"values":[0,20],"title":null}}},"layer":[{"transform":[{"filter":"datum.x==0"}],"mark":"rule","encoding":{"x":{"datum":5}}},{"transform":[{"filter":"datum.x==0"}],"mark":"rule","encoding":{"x":{"datum":15}}},{"mark":{"type":"errorband","color":"#6aa6d6","opacity":0.55,"interpolate":"monotone"},"encoding":{"y":{"field":"b","type":"quantitative","title":"1e-4","scale":{"domain":[-5,7],"nice":false},"axis":{"values":[-5,0,5]}},"yError":{"field":"be"}}},{"mark":{"type":"line","color":"#3d6fa8","strokeWidth":1.3,"interpolate":"monotone"},"encoding":{"y":{"field":"b","type":"quantitative","title":"1e-4"}}},{"mark":{"type":"errorband","color":"#66c266","opacity":0.5,"interpolate":"monotone"},"encoding":{"y":{"field":"g","type":"quantitative","title":"1e-4"},"yError":{"field":"ge"}}},{"mark":{"type":"line","color":"#5ab55a","strokeWidth":1.8,"interpolate":"monotone"},"encoding":{"y":{"field":"g","type":"quantitative","title":"1e-4"}}}]}}]},
{"data":{"name":"d"},"transform":[{"filter":{"field":"p","oneOf":["c06","c07","c08","c09","c10","c11"]}},{"lookup":"p","from":{"data":{"name":"w"},"key":"p","fields":["be","ge"]}}],"facet":{"column":{"field":"p","type":"nominal","title":null,"header":{"labelExpr":"toNumber(slice(datum.value,1))"}}},"spacing":{"column":76},"resolve":{"axis":{"x":"independent","y":"independent"}},
"spec":{"width":71,"height":80,"encoding":{"x":{"field":"x","type":"quantitative","scale":{"domain":[0,30],"nice":false,"zero":false},"axis":{"values":[0,20],"title":null}}},"layer":[{"transform":[{"filter":"datum.x==0"}],"mark":"rule","encoding":{"x":{"datum":5}}},{"transform":[{"filter":"datum.x==0"}],"mark":"rule","encoding":{"x":{"datum":15}}},{"mark":{"type":"errorband","color":"#6aa6d6","opacity":0.55,"interpolate":"monotone"},"encoding":{"y":{"field":"b","type":"quantitative","title":"1e-4","scale":{"domain":[-5,7],"nice":false},"axis":{"values":[-5,0,5]}},"yError":{"field":"be"}}},{"mark":{"type":"line","color":"#3d6fa8","strokeWidth":1.3,"interpolate":"monotone"},"encoding":{"y":{"field":"b","type":"quantitative","title":"1e-4"}}},{"mark":{"type":"errorband","color":"#66c266","opacity":0.5,"interpolate":"monotone"},"encoding":{"y":{"field":"g","type":"quantitative","title":"1e-4"},"yError":{"field":"ge"}}},{"mark":{"type":"line","color":"#5ab55a","strokeWidth":1.8,"interpolate":"monotone"},"encoding":{"y":{"field":"g","type":"quantitative","title":"1e-4"}}}]}},
{"spacing":0,"hconcat":[{"data":{"values":[]},"mark":"point","width":66.2,"height":80,"view":{"stroke":null}},
{"data":{"name":"d"},"transform":[{"filter":{"field":"p","oneOf":["c12","c13","c14","c15","c16"]}},{"lookup":"p","from":{"data":{"name":"w"},"key":"p","fields":["be","ge"]}}],"facet":{"column":{"field":"p","type":"nominal","title":null,"header":{"labelExpr":"toNumber(slice(datum.value,1))"}}},"spacing":{"column":76},"resolve":{"axis":{"x":"independent","y":"independent"}},
"spec":{"width":71,"height":80,"encoding":{"x":{"field":"x","type":"quantitative","scale":{"domain":[0,30],"nice":false,"zero":false},"axis":{"values":[0,20],"title":null}}},"layer":[{"transform":[{"filter":"datum.x==0"}],"mark":"rule","encoding":{"x":{"datum":5}}},{"transform":[{"filter":"datum.x==0"}],"mark":"rule","encoding":{"x":{"datum":15}}},{"mark":{"type":"errorband","color":"#6aa6d6","opacity":0.55,"interpolate":"monotone"},"encoding":{"y":{"field":"b","type":"quantitative","title":"1e-4","scale":{"domain":[-5,7],"nice":false},"axis":{"values":[-5,0,5]}},"yError":{"field":"be"}}},{"mark":{"type":"line","color":"#3d6fa8","strokeWidth":1.3,"interpolate":"monotone"},"encoding":{"y":{"field":"b","type":"quantitative","title":"1e-4"}}},{"mark":{"type":"errorband","color":"#66c266","opacity":0.5,"interpolate":"monotone"},"encoding":{"y":{"field":"g","type":"quantitative","title":"1e-4"},"yError":{"field":"ge"}}},{"mark":{"type":"line","color":"#5ab55a","strokeWidth":1.8,"interpolate":"monotone"},"encoding":{"y":{"field":"g","type":"quantitative","title":"1e-4"}}}]}}]},
{"spacing":0,"hconcat":[{"data":{"values":[]},"mark":"point","width":151.5,"height":80,"view":{"stroke":null}},
{"data":{"name":"d"},"transform":[{"filter":{"field":"p","oneOf":["c17","c18","c19","c20"]}},{"lookup":"p","from":{"data":{"name":"w"},"key":"p","fields":["be","ge"]}}],"facet":{"column":{"field":"p","type":"nominal","title":null,"header":{"labelExpr":"toNumber(slice(datum.value,1))"}}},"spacing":{"column":76},"resolve":{"axis":{"x":"independent","y":"independent"}},
"spec":{"width":71,"height":80,"encoding":{"x":{"field":"x","type":"quantitative","scale":{"domain":[0,30],"nice":false,"zero":false},"axis":{"values":[0,20],"title":null}}},"layer":[{"transform":[{"filter":"datum.x==0"}],"mark":"rule","encoding":{"x":{"datum":5}}},{"transform":[{"filter":"datum.x==0"}],"mark":"rule","encoding":{"x":{"datum":15}}},{"mark":{"type":"errorband","color":"#6aa6d6","opacity":0.55,"interpolate":"monotone"},"encoding":{"y":{"field":"b","type":"quantitative","title":"1e-4","scale":{"domain":[-5,7],"nice":false},"axis":{"values":[-5,0,5]}},"yError":{"field":"be"}}},{"mark":{"type":"line","color":"#3d6fa8","strokeWidth":1.3,"interpolate":"monotone"},"encoding":{"y":{"field":"b","type":"quantitative","title":"1e-4"}}},{"mark":{"type":"errorband","color":"#66c266","opacity":0.5,"interpolate":"monotone"},"encoding":{"y":{"field":"g","type":"quantitative","title":"1e-4"},"yError":{"field":"ge"}}},{"mark":{"type":"line","color":"#5ab55a","strokeWidth":1.8,"interpolate":"monotone"},"encoding":{"y":{"field":"g","type":"quantitative","title":"1e-4"}}}]}}]},
{"spacing":0,"hconcat":[{"data":{"values":[]},"mark":"point","width":234.2,"height":62.5,"view":{"stroke":null},"title":{"text":"c","orient":"bottom","anchor":"start","font":"Liberation Serif","fontStyle":"italic","fontWeight":"normal","fontSize":30,"color":"#000","dx":-24}},
{"data":{"name":"d"},"transform":[{"filter":{"field":"p","oneOf":["c21","c22","c23"]}},{"lookup":"p","from":{"data":{"name":"w"},"key":"p","fields":["be","ge"]}}],"facet":{"column":{"field":"p","type":"nominal","title":null,"header":{"labelExpr":"toNumber(slice(datum.value,1))"}}},"spacing":{"column":76},"resolve":{"axis":{"x":"independent","y":"independent"}},
"spec":{"width":71,"height":80,"encoding":{"x":{"field":"x","type":"quantitative","scale":{"domain":[0,30],"nice":false,"zero":false},"axis":{"values":[0,20],"title":null}}},"layer":[{"transform":[{"filter":"datum.x==0"}],"mark":"rule","encoding":{"x":{"datum":5}}},{"transform":[{"filter":"datum.x==0"}],"mark":"rule","encoding":{"x":{"datum":15}}},{"mark":{"type":"errorband","color":"#6aa6d6","opacity":0.55,"interpolate":"monotone"},"encoding":{"y":{"field":"b","type":"quantitative","title":"1e-4","scale":{"domain":[-5,7],"nice":false},"axis":{"values":[-5,0,5]}},"yError":{"field":"be"}}},{"mark":{"type":"line","color":"#3d6fa8","strokeWidth":1.3,"interpolate":"monotone"},"encoding":{"y":{"field":"b","type":"quantitative","title":"1e-4"}}},{"mark":{"type":"errorband","color":"#66c266","opacity":0.5,"interpolate":"monotone"},"encoding":{"y":{"field":"g","type":"quantitative","title":"1e-4"},"yError":{"field":"ge"}}},{"mark":{"type":"line","color":"#5ab55a","strokeWidth":1.8,"interpolate":"monotone"},"encoding":{"y":{"field":"g","type":"quantitative","title":"1e-4"}}}]}}]}
]}
]}
]}
